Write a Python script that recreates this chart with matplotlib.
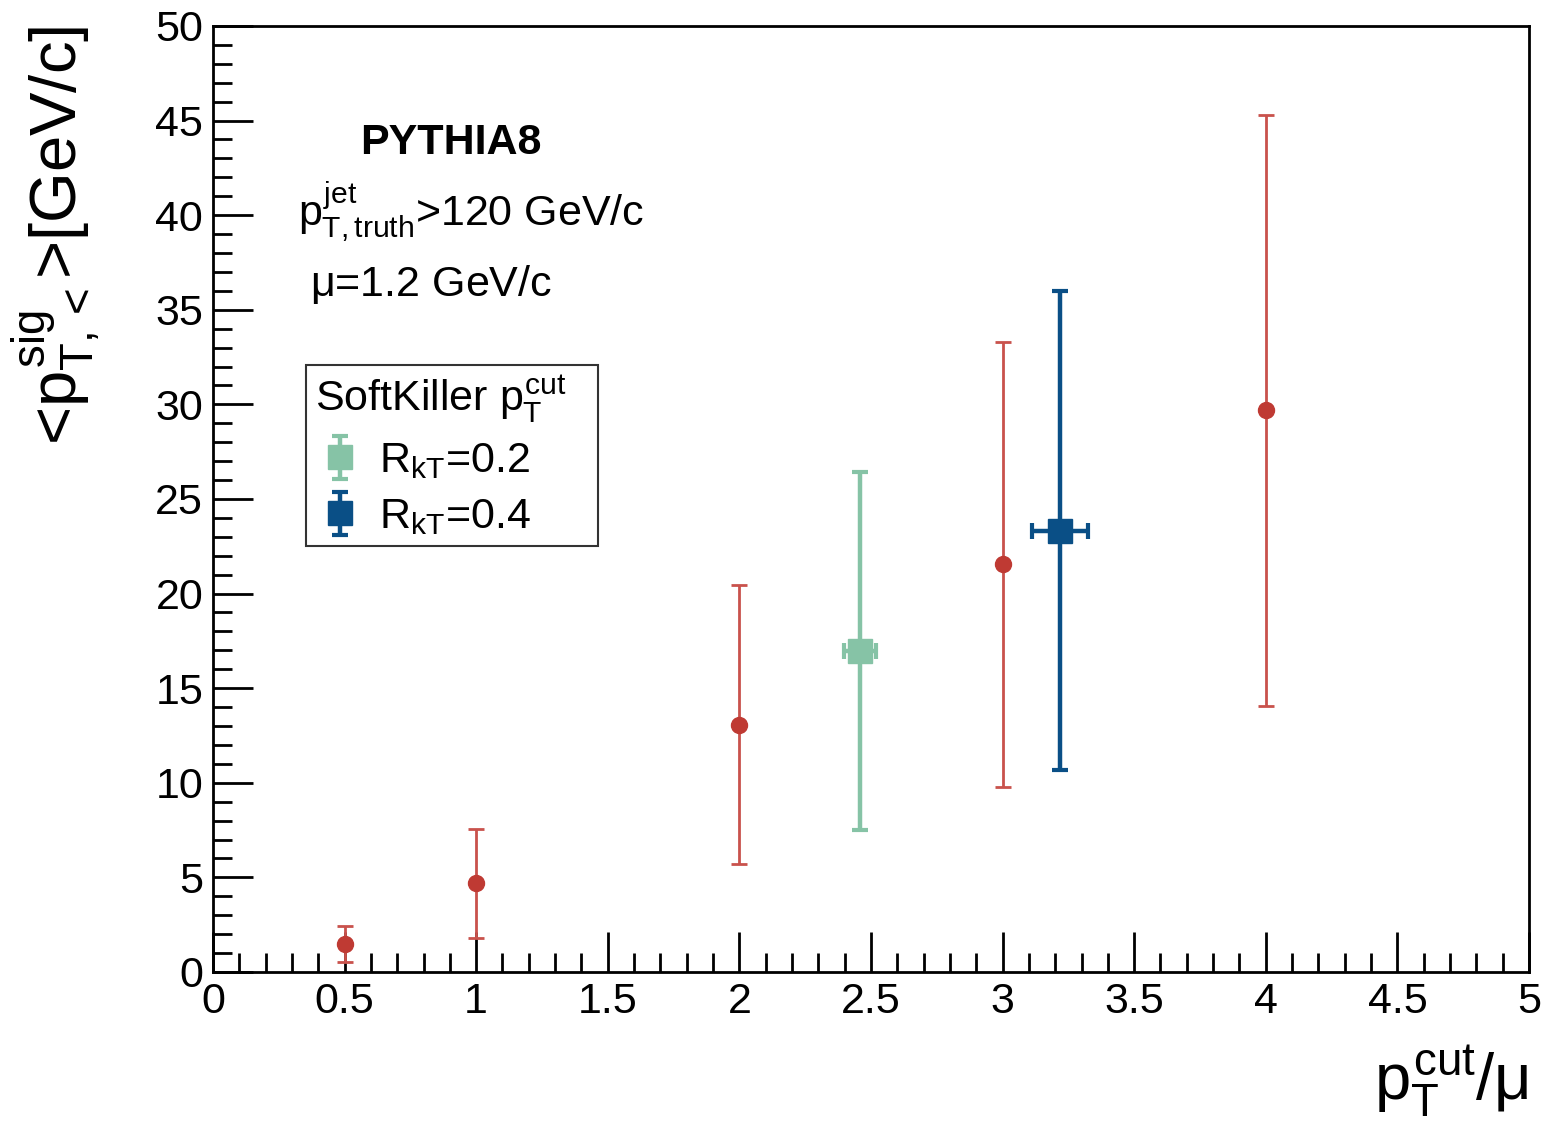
import numpy as np
import matplotlib
matplotlib.use("Agg")
import matplotlib.pyplot as plt
from matplotlib.ticker import MultipleLocator

plt.rcParams['font.family'] = ['Liberation Sans', 'DejaVu Sans']
plt.rcParams['mathtext.fontset'] = 'custom'
plt.rcParams['mathtext.rm'] = 'Liberation Sans'
plt.rcParams['mathtext.it'] = 'Liberation Sans'
plt.rcParams['mathtext.bf'] = 'Liberation Sans:bold'

# SoftKiller scan (red points)
sk_x = [0.5, 1.0, 2.0, 3.0, 4.0]
sk_y = [1.5, 4.7, 13.05, 21.55, 29.7]
sk_lo = [0.5, 1.8, 5.7, 9.8, 14.05]
sk_hi = [2.45, 7.55, 20.45, 33.3, 45.3]

# R_kT = 0.2
r02_x = [2.458]
r02_xerr = [0.06]
r02_y = [16.97]
r02_lo = [7.5]
r02_hi = [26.45]

# R_kT = 0.4
r04_x = [3.218]
r04_xerr = [0.105]
r04_y = [23.3]
r04_lo = [10.7]
r04_hi = [36.0]

red = '#bf3a33'
green = '#86c3a6'
blue = '#0a4f86'


def yerr(y, lo, hi):
    y = np.array(y)
    return [y - np.array(lo), np.array(hi) - y]


fig = plt.figure(figsize=(15.41, 11.29), dpi=100)
ax = fig.add_axes([0.1382, 0.1391, 0.9922 - 0.1382, 0.977 - 0.1391])

ax.errorbar(sk_x, sk_y, yerr=yerr(sk_y, sk_lo, sk_hi), fmt='o', color=red,
            ecolor='#c9524c', ms=11.5, elinewidth=2, capsize=6, capthick=2,
            zorder=3)
ax.errorbar(r02_x, r02_y, xerr=r02_xerr, yerr=yerr(r02_y, r02_lo, r02_hi),
            fmt='s', color=green, ms=17, elinewidth=3.2, capsize=6,
            capthick=3, zorder=3)
ax.errorbar(r04_x, r04_y, xerr=r04_xerr, yerr=yerr(r04_y, r04_lo, r04_hi),
            fmt='s', color=blue, ms=17, elinewidth=3.2, capsize=6,
            capthick=3, zorder=3)

# legend handles: marker with vertical bar only
h02 = ax.errorbar([np.nan], [np.nan], yerr=[[1], [1]], fmt='s', color=green,
                  ms=17, elinewidth=3.2, capsize=6, capthick=3,
                  label=r'R$_{\mathrm{kT}}$=0.2')
h04 = ax.errorbar([np.nan], [np.nan], yerr=[[1], [1]], fmt='s', color=blue,
                  ms=17, elinewidth=3.2, capsize=6, capthick=3,
                  label=r'R$_{\mathrm{kT}}$=0.4')

ax.set_xlim(0, 5)
ax.set_ylim(0, 50)
ax.xaxis.set_minor_locator(MultipleLocator(0.1))
ax.yaxis.set_major_locator(MultipleLocator(5))
ax.yaxis.set_minor_locator(MultipleLocator(1))
ax.set_xticks(np.arange(0, 5.01, 0.5))
ax.set_xticklabels(['0', '0.5', '1', '1.5', '2', '2.5', '3', '3.5', '4', '4.5', '5'])
ax.tick_params(which='both', direction='in', width=2, labelsize=31,
               top=False, right=False)
ax.tick_params(which='major', length=29, pad=7)
ax.tick_params(which='minor', length=14)
for s in ax.spines.values():
    s.set_linewidth(2)

ax.set_ylabel(r'<$p^{\mathrm{sig}}_{\mathrm{T,<}}$>[GeV/c]', fontsize=47,
              loc='top', labelpad=38)
ax.set_xlabel(r'$p_{\mathrm{T}}^{\mathrm{cut}}$/$\mu$', fontsize=47,
              loc='right', labelpad=16)

ax.text(0.181, 0.876, 'PYTHIA8', transform=ax.transAxes, fontsize=31,
        fontweight='bold', ha='center', va='center')
ax.text(0.0646, 0.803, r'$p_{\mathrm{T,truth}}^{\mathrm{jet}}$>120 GeV/c',
        transform=ax.transAxes, fontsize=31, ha='left', va='center')
ax.text(0.0737, 0.727, r'$\mu$=1.2 GeV/c', transform=ax.transAxes,
        fontsize=31, ha='left', va='center')

leg = ax.legend(handles=[h02, h04], loc='upper left', mode='expand',
                bbox_to_anchor=(0.0707, 0.4535, 0.2219, 0.1881),
                title=r'SoftKiller $p_{\mathrm{T}}^{\mathrm{cut}}$',
                fontsize=31, title_fontsize=31, frameon=True, fancybox=False,
                borderpad=0.2, borderaxespad=0, handlelength=1.2,
                handletextpad=0.3, labelspacing=0.38, alignment='left')
leg.get_frame().set_edgecolor('black')
leg.get_frame().set_linewidth(1.5)

fig.savefig('out.png', dpi=100)
